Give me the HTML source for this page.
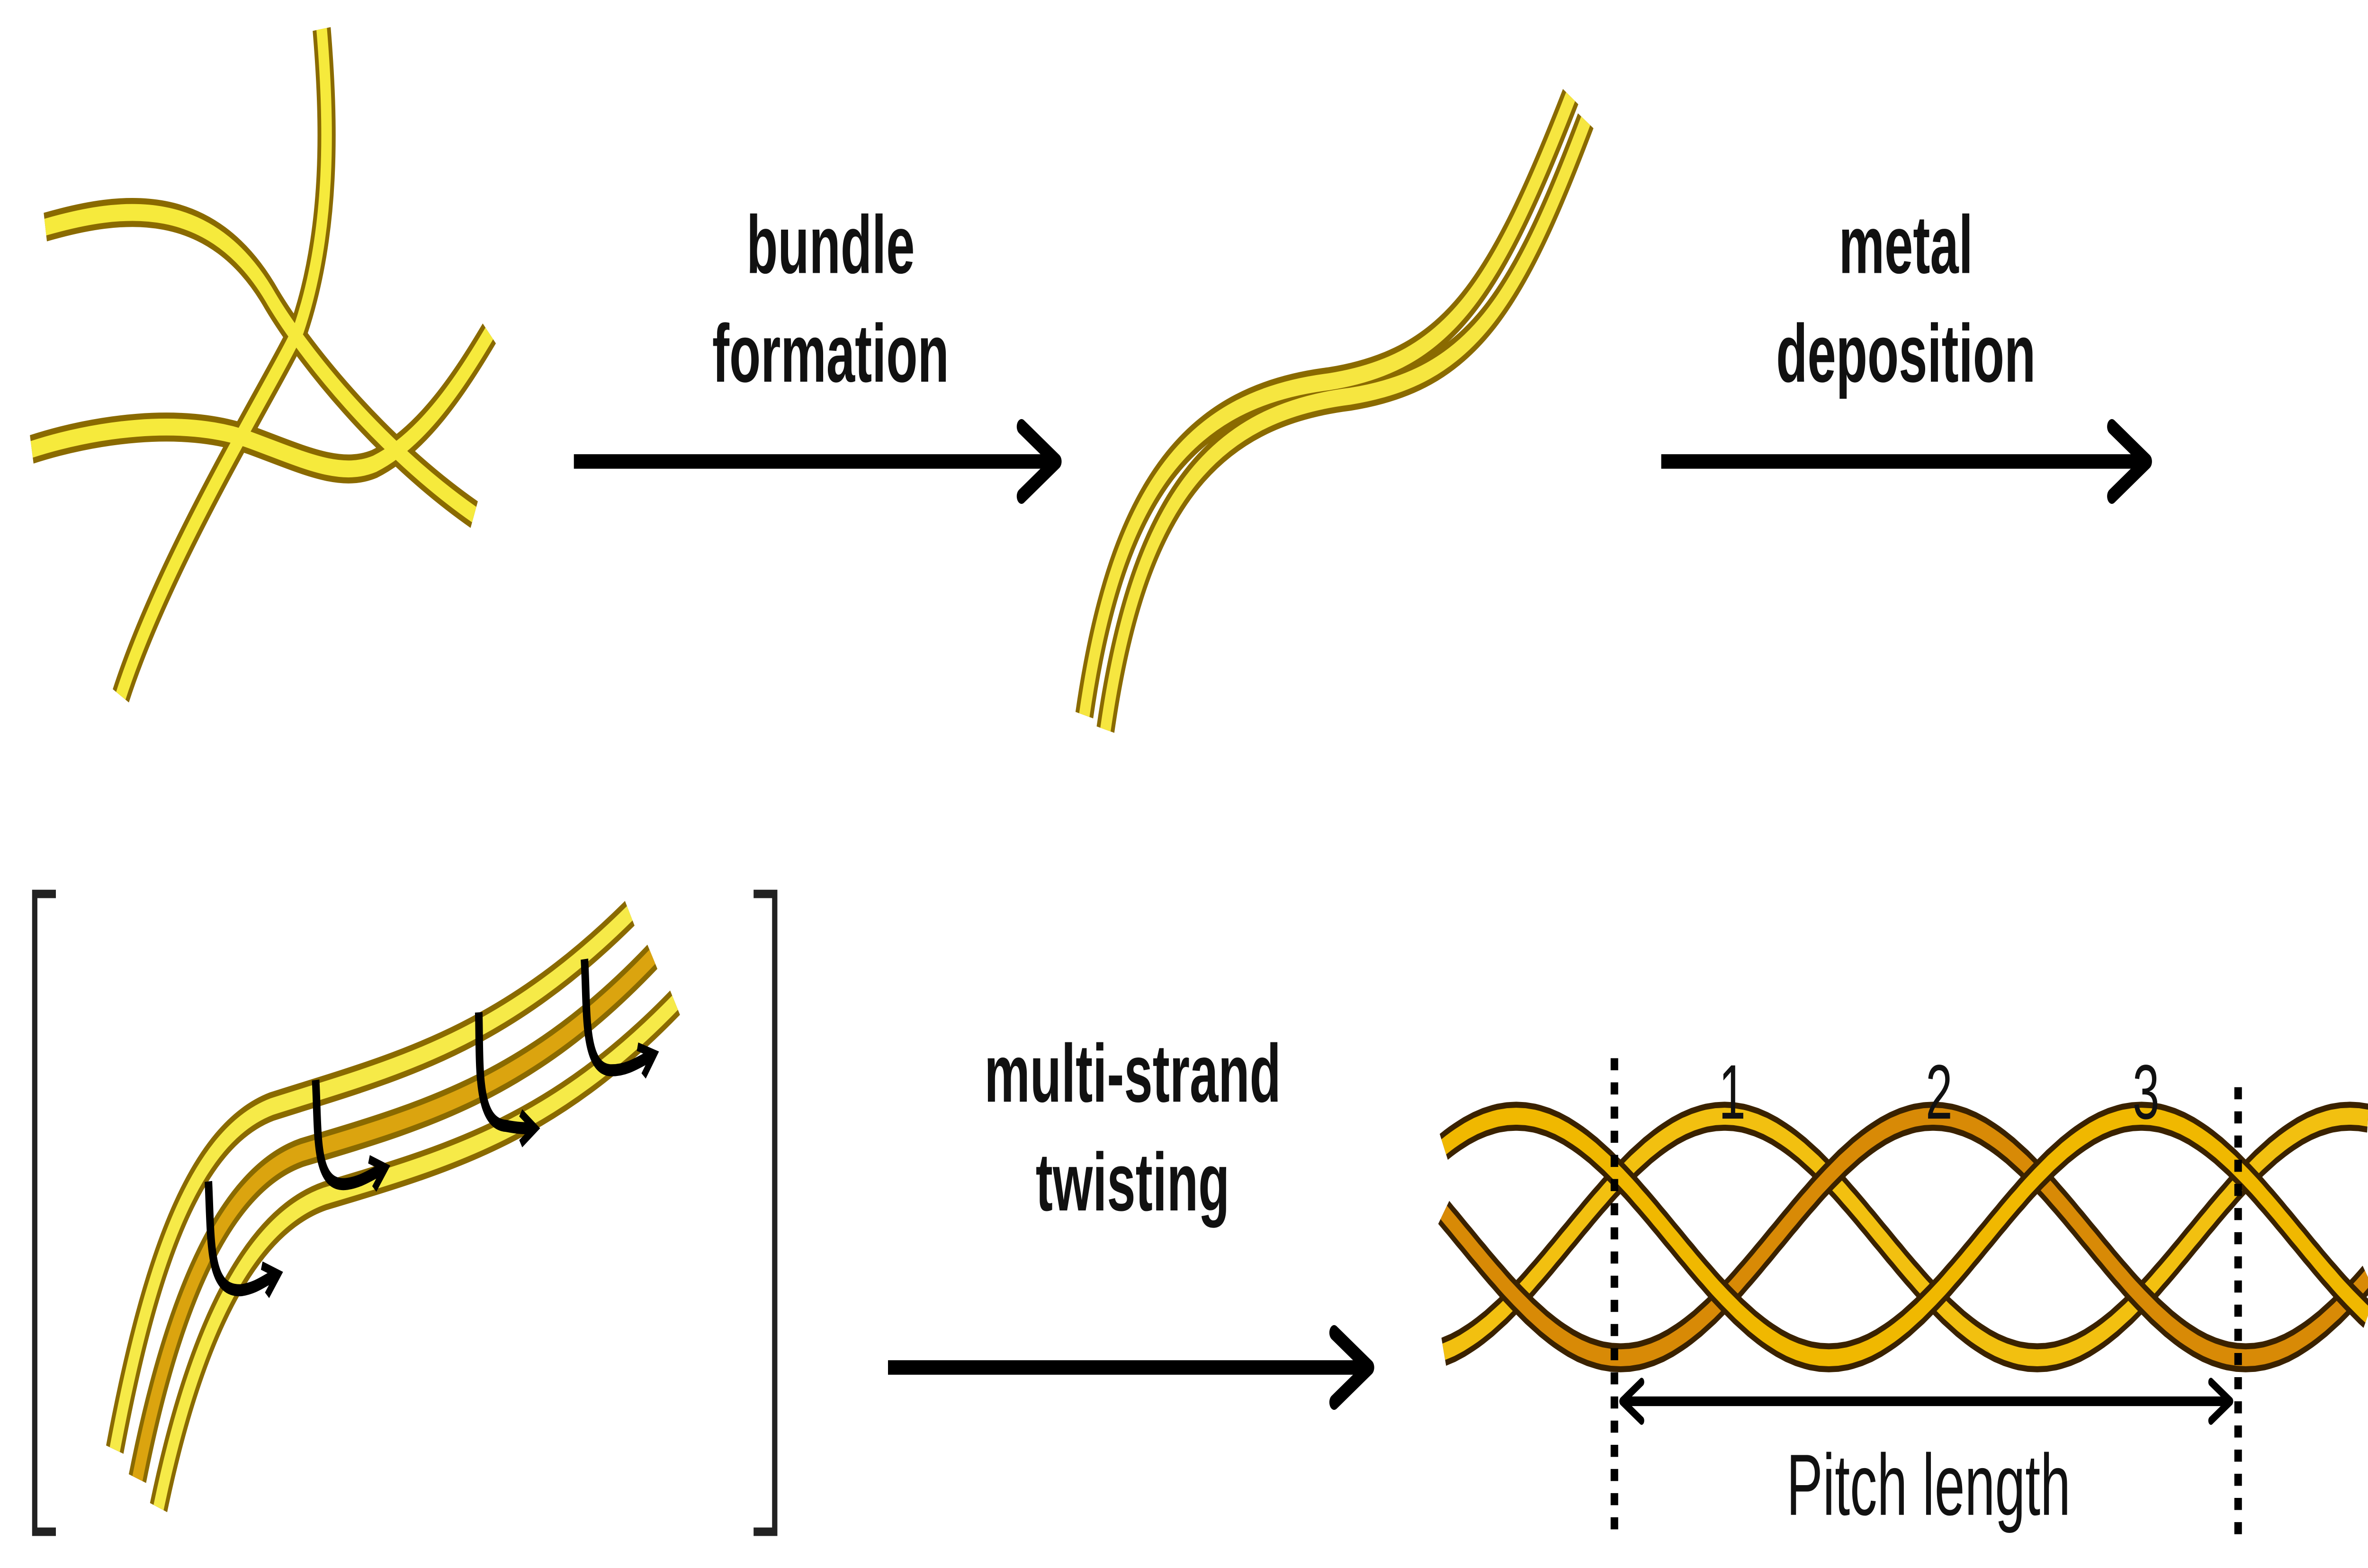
<!DOCTYPE html>
<html><head><meta charset="utf-8"><style>
html,body{margin:0;padding:0;background:#fff;overflow:hidden;width:100vw;height:100vh;}
svg{display:block;width:100vw;height:100vh;}
text{font-family:"Liberation Sans",sans-serif;font-weight:bold;fill:#111;}
</style></head><body>
<svg viewBox="0 0 1568 649" preserveAspectRatio="none" xmlns="http://www.w3.org/2000/svg">
<defs>
<marker id="ah" viewBox="0 0 20 20" refX="14" refY="10" markerWidth="6" markerHeight="6" orient="auto" markerUnits="strokeWidth">
<path d="M2,2 L15,10 L2,18" fill="none" stroke="#000" stroke-width="3.5" stroke-linecap="round" stroke-linejoin="round"/>
</marker>
<marker id="ahs" viewBox="0 0 20 20" refX="14" refY="10" markerWidth="5" markerHeight="5" orient="auto-start-reverse" markerUnits="strokeWidth">
<path d="M2,2 L15,10 L2,18" fill="none" stroke="#000" stroke-width="3.5" stroke-linecap="round" stroke-linejoin="round"/>
</marker>
<marker id="ahh" viewBox="0 0 20 20" refX="12" refY="10" markerWidth="3.2" markerHeight="3.2" orient="auto" markerUnits="strokeWidth">
<path d="M3,2 L15,10 L3,18" fill="none" stroke="#000" stroke-width="4.5" stroke-linecap="butt" stroke-linejoin="miter"/>
</marker>
</defs>

<g fill="none" stroke-linecap="butt">
<g stroke="#8a6a00" stroke-width="12">
<path d="M213,12 C218,50 220,95 198,136 C180,160 110,230 80,288"/>
<path d="M30,94 C80,85 140,80 180,124 C200,145 250,185 314,213"/>
<path d="M21,186 C60,178 120,172 165,182 C200,190 225,198 248,192 C280,182 305,158 324,138"/>
</g>
<g stroke="#f6ea3c" stroke-width="7">
<path d="M213,12 C218,50 220,95 198,136 C180,160 110,230 80,288"/>
<path d="M30,94 C80,85 140,80 180,124 C200,145 250,185 314,213"/>
<path d="M21,186 C60,178 120,172 165,182 C200,190 225,198 248,192 C280,182 305,158 324,138"/>
</g>
</g>

<g>
<line x1="380" y1="191" x2="698" y2="191" stroke="#000" stroke-width="6" marker-end="url(#ah)"/>
<text x="550" y="113" font-size="34" text-anchor="middle">bundle</text>
<text x="550" y="158" font-size="34" text-anchor="middle">formation</text>
</g>

<g fill="none">
<g stroke="#8a6a00" stroke-width="12">
<path d="M718,296 C740,200 790,165 880,158 C960,150 990,120 1040,40"/>
<path d="M732,302 C754,206 804,171 894,164 C974,156 1004,126 1050,50"/>
</g>
<g stroke="#f6e640" stroke-width="7">
<path d="M718,296 C740,200 790,165 880,158 C960,150 990,120 1040,40"/>
<path d="M732,302 C754,206 804,171 894,164 C974,156 1004,126 1050,50"/>
</g>
</g>

<g>
<line x1="1100" y1="191" x2="1420" y2="191" stroke="#000" stroke-width="6" marker-end="url(#ah)"/>
<text x="1262" y="113" font-size="34" text-anchor="middle">metal</text>
<text x="1262" y="158" font-size="34" text-anchor="middle">deposition</text>
</g>

<g><path d="M37,370 L23,370 L23,634 L37,634" fill="none" stroke="#222" stroke-width="3.5"/></g>
<g><path d="M499,370 L513,370 L513,634 L499,634" fill="none" stroke="#222" stroke-width="3.5"/></g>

<g fill="none">
<g stroke="#8a6a00" stroke-width="12">
<path d="M76,600 C100,520 130,470 180,458 C260,442 330,432 417,378"/>
<path d="M91,612 C115,536 150,488 200,477 C280,462 350,450 432,396"/>
<path d="M105,624 C129,552 165,506 215,495 C295,480 365,468 447,415"/>
</g>
<g stroke="#f6ea48" stroke-width="7">
<path d="M76,600 C100,520 130,470 180,458 C260,442 330,432 417,378"/>
<path d="M105,624 C129,552 165,506 215,495 C295,480 365,468 447,415"/>
</g>
<path d="M91,612 C115,536 150,488 200,477 C280,462 350,450 432,396" stroke="#dba40f" stroke-width="7"/>
<g stroke="#000" stroke-width="5" stroke-linecap="butt">
<path d="M138,489 C140,515 138,535 160,534 C170,533 175,530 182,528" marker-end="url(#ahh)"/>
<path d="M209,447 C211,470 208,492 230,490 C240,489 246,486 253,484" marker-end="url(#ahh)"/>
<path d="M317,419 C318,440 315,465 335,466 C343,467 348,467 352,467" marker-end="url(#ahh)"/>
<path d="M387,397 C389,418 386,443 405,443 C415,443 422,440 431,437" marker-end="url(#ahh)"/>
</g>
</g>

<g>
<line x1="588" y1="566" x2="905" y2="566" stroke="#000" stroke-width="6" marker-end="url(#ah)"/>
<text x="750" y="456" font-size="34" text-anchor="middle">multi-strand</text>
<text x="750" y="501" font-size="34" text-anchor="middle">twisting</text>
</g>

<g id="rope"></g>

<g>
<line x1="1069" y1="438" x2="1069" y2="636" stroke="#000" stroke-width="5" stroke-dasharray="5,5"/>
<line x1="1482" y1="450" x2="1482" y2="636" stroke="#000" stroke-width="5" stroke-dasharray="5,5"/>
<line x1="1075" y1="580" x2="1476" y2="580" stroke="#000" stroke-width="4" marker-start="url(#ahs)" marker-end="url(#ahs)"/>
<text x="1147" y="463" font-size="32" text-anchor="middle" style="font-weight:normal">1</text>
<text x="1284" y="463" font-size="32" text-anchor="middle" style="font-weight:normal">2</text>
<text x="1421" y="463" font-size="32" text-anchor="middle" style="font-weight:normal">3</text>
<text x="1277" y="627" font-size="36" text-anchor="middle" style="font-weight:normal">Pitch length</text>
</g>
</svg>
<script>
const strandCrests=[1142,1280,1418];
const strandColors=['#f2c010','#d88a06','#f0b800'];
const g=document.getElementById('rope');
const P=414,cy=512,A=50;
strandCrests.forEach((xc,i)=>{
  let d='';
  for(let x=956;x<=1568;x+=3){
    const y=cy-A*Math.cos(2*Math.PI*(x-xc)/P);
    d+=(d?'L':'M')+x+','+y.toFixed(1);
  }
  const o=document.createElementNS('http://www.w3.org/2000/svg','path');
  o.setAttribute('d',d);o.setAttribute('fill','none');o.setAttribute('stroke','#3a2200');o.setAttribute('stroke-width','12');
  
  
  g.appendChild(o);
  const p=document.createElementNS('http://www.w3.org/2000/svg','path');
  p.setAttribute('d',d);p.setAttribute('fill','none');p.setAttribute('stroke',strandColors[i]);p.setAttribute('stroke-width','7');
  
  
  g.appendChild(p);
});
</script>
</body></html>
